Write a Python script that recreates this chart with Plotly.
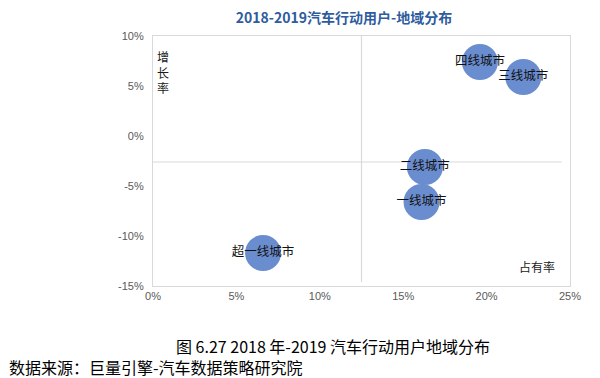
import plotly.graph_objects as go

cities = ["超一线城市", "一线城市", "二线城市", "三线城市", "四线城市"]
share = [6.6, 16.1, 16.3, 22.2, 19.6]        # 占有率 %
growth = [-11.7, -6.6, -3.1, 5.9, 7.4]       # 增长率 %
x_ticks = [0, 5, 10, 15, 20, 25]
y_ticks = [-15, -10, -5, 0, 5, 10]
x_cross = 12.5
y_cross = -2.6

CJK = "Noto Sans CJK SC, Noto Sans, sans-serif"

fig = go.Figure()
fig.add_trace(go.Scatter(
    x=[s / 100 for s in share], y=[g / 100 for g in growth],
    mode="markers+text", text=cities, textposition="middle center",
    textfont=dict(family=CJK, size=12.5, color="#111111"),
    marker=dict(size=36, color="#6A8DD0", line=dict(width=0)),
    hoverinfo="skip", showlegend=False,
))

line_col = "#D9D9D9"
fig.add_shape(type="line", xref="x", yref="y", x0=0, x1=0.245, y0=y_cross / 100, y1=y_cross / 100,
              line=dict(color=line_col, width=1.2), layer="below")
fig.add_shape(type="line", xref="x", yref="y", x0=x_cross / 100, x1=x_cross / 100, y0=-0.146, y1=0.10,
              line=dict(color=line_col, width=1.2), layer="below")

# page has an 8px body margin, so the figure is drawn 8px in from the corner
fig.update_layout(
    width=592, height=370,
    margin=dict(l=145, r=30, t=28, b=92),
    paper_bgcolor="white", plot_bgcolor="white",
    title=dict(text="<b>2018-2019汽车行动用户-地域分布</b>", x=(344 - 8) / 592, xanchor="center",
               y=1 - (18 - 8) / 370, yanchor="middle",
               font=dict(family=CJK, size=14, color="#2E5C9E")),
    xaxis=dict(range=[0, 0.25], tickvals=[t / 100 for t in x_ticks],
               ticktext=[f"{t}%" for t in x_ticks], showgrid=False, zeroline=False,
               showline=True, linecolor=line_col, linewidth=1.2, mirror=True,
               ticks="", tickfont=dict(family="Liberation Sans, Arial", size=11, color="#595959")),
    yaxis=dict(range=[-0.15, 0.10], tickvals=[t / 100 for t in y_ticks],
               ticktext=[f"{t}%" for t in y_ticks], showgrid=False, zeroline=False,
               showline=True, linecolor=line_col, linewidth=1.2, mirror=True,
               ticks="", ticklabelstandoff=6,
               tickfont=dict(family="Liberation Sans, Arial", size=11, color="#595959")),
    annotations=[
        dict(text="增<br>长<br>率", xref="paper", yref="paper", x=0.025, y=0.96,
             xanchor="center", yanchor="top", showarrow=False,
             font=dict(family=CJK, size=12, color="#1a1a1a")),
        dict(text="占有率", xref="paper", yref="paper", x=0.97, y=0.035,
             xanchor="right", yanchor="bottom", showarrow=False,
             font=dict(family=CJK, size=12, color="#1a1a1a")),
        dict(text="图 6.27 2018 年-2019 汽车行动用户地域分布", xref="paper", yref="paper",
             x=(333 - 153) / 417, y=-(346 - 286) / 250, xanchor="center", yanchor="middle",
             showarrow=False, font=dict(family=CJK, size=16, color="#000000")),
        dict(text="数据来源：巨量引擎-汽车数据策略研究院", xref="paper", yref="paper",
             x=-(153 - 7) / 417, y=-(367 - 286) / 250, xanchor="left", yanchor="middle",
             showarrow=False, font=dict(family=CJK, size=16, color="#000000")),
    ],
)

fig.write_html("out.html")
